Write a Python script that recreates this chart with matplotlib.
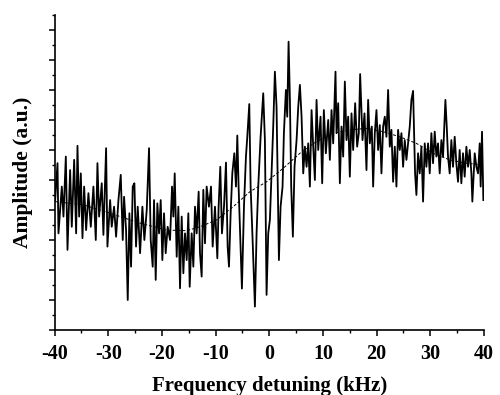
import matplotlib
matplotlib.use("Agg")
import matplotlib.pyplot as plt
from matplotlib.ticker import MultipleLocator, NullFormatter

freq = [
    -39.88, -39.44, -39.26, -38.64, -38.33, -37.89, -37.58, -37.09, -36.78, -36.34,
    -35.97, -35.72, -35.41, -35.10, -34.79, -34.48, -34.11, -33.68, -33.24, -32.75,
    -32.31, -32.00, -31.69, -31.20, -30.89, -30.39, -30.14, -29.64, -29.34, -28.90,
    -28.53, -28.09, -27.66, -27.29, -27.04, -26.67, -26.36, -26.05, -25.74, -25.43,
    -25.12, -24.81, -24.50, -24.06, -23.63, -23.26, -22.82, -22.39, -22.08, -21.71,
    -21.46, -21.15, -20.84, -20.53, -20.22, -19.91, -19.60, -19.29, -18.92, -18.48,
    -18.11, -17.86, -17.61, -17.24, -16.93, -16.62, -16.31, -16.00, -15.69, -15.38,
    -15.07, -14.82, -14.45, -14.14, -13.83, -13.52, -13.15, -12.90, -12.59, -12.28,
    -11.97, -11.66, -11.23, -10.85, -10.54, -10.11, -9.67, -9.43, -9.12, -8.81,
    -8.43, -8.06, -7.75, -7.50, -7.19, -6.88, -6.51, -6.20, -5.95, -5.71,
    -5.46, -5.09, -4.71, -4.34, -4.09, -3.72, -3.47, -3.10, -2.67, -2.36,
    -2.05, -1.61, -1.12, -0.81, -0.50, -0.19, 0.12, 0.43, 0.74, 1.05,
    1.36, 1.80, 2.11, 2.48, 2.73, 3.10, 3.35, 3.60, 3.85, 4.09,
    4.40, 4.71, 5.09, 5.40, 5.71, 6.02, 6.33, 6.64, 6.95, 7.26,
    7.57, 7.88, 8.19, 8.50, 8.81, 9.12, 9.55, 9.86, 10.17, 10.54,
    10.98, 11.29, 11.60, 11.91, 12.34, 12.53, 12.84, 13.15, 13.46, 13.77,
    14.08, 14.39, 14.70, 15.01, 15.32, 15.63, 16.00, 16.37, 16.68, 16.93,
    17.37, 17.74, 18.11, 18.42, 18.73, 19.10, 19.35, 19.66, 19.97, 20.28,
    20.59, 20.90, 21.21, 21.52, 21.83, 22.14, 22.45, 22.76, 23.07, 23.38,
    23.69, 24.00, 24.31, 24.62, 24.93, 25.24, 25.55, 25.86, 26.17, 26.48,
    26.79, 27.16, 27.41, 27.72, 28.03, 28.34, 28.65, 28.96, 29.27, 29.58,
    29.89, 30.20, 30.51, 30.82, 31.13, 31.44, 31.75, 32.06, 32.37, 32.81,
    33.06, 33.30, 33.61, 33.92, 34.23, 34.54, 34.85, 35.16, 35.47, 35.78,
    36.09, 36.40, 36.72, 37.03, 37.34, 37.65, 37.83, 38.27, 38.58, 38.89,
    39.20, 39.38, 39.63, 39.88,
]
amp = [
    4.33, 5.56, 3.22, 4.78, 3.78, 5.78, 2.67, 5.33, 3.44, 5.67,
    3.22, 6.14, 3.78, 5.22, 3.06, 4.78, 3.33, 4.56, 3.44, 4.78,
    3.00, 5.56, 3.78, 4.89, 3.17, 6.06, 2.78, 4.33, 3.44, 4.11,
    3.11, 4.33, 5.17, 3.00, 4.44, 3.33, 1.00, 3.89, 2.11, 4.78,
    4.89, 2.78, 4.11, 2.56, 4.11, 3.00, 4.00, 6.06, 3.00, 2.11,
    4.33, 1.67, 4.22, 3.22, 4.33, 2.33, 3.89, 2.56, 3.44, 3.00,
    4.78, 3.78, 5.22, 2.44, 4.11, 1.39, 3.78, 1.89, 3.22, 2.33,
    3.89, 1.44, 3.22, 2.11, 4.11, 3.22, 4.61, 2.56, 1.78, 4.67,
    2.89, 4.78, 4.11, 4.78, 2.78, 4.11, 2.39, 4.11, 5.44, 3.22,
    4.11, 5.58, 2.78, 2.11, 3.89, 5.22, 5.89, 4.78, 6.48, 4.78,
    3.44, 1.38, 4.11, 5.78, 6.44, 7.53, 4.78, 3.00, 0.78, 3.22,
    4.78, 6.44, 7.89, 6.33, 1.17, 3.22, 3.67, 5.22, 6.78, 8.61,
    7.44, 2.33, 4.11, 4.78, 6.56, 8.00, 7.11, 9.61, 7.67, 4.78,
    3.11, 5.44, 6.33, 7.44, 8.17, 7.11, 5.22, 6.11, 5.44, 6.22,
    4.78, 7.33, 6.11, 5.00, 7.67, 6.00, 7.11, 4.89, 7.33, 5.89,
    7.00, 5.67, 7.33, 6.22, 8.61, 6.56, 7.56, 4.89, 6.78, 5.78,
    8.28, 6.33, 7.11, 5.11, 7.22, 6.00, 7.56, 6.11, 6.56, 8.53,
    6.33, 7.22, 5.33, 7.67, 6.22, 6.78, 4.78, 6.56, 7.33, 6.00,
    6.83, 5.22, 6.78, 7.11, 6.44, 8.00, 6.11, 6.67, 4.94, 6.11,
    4.78, 6.67, 6.00, 6.56, 5.44, 6.33, 5.67, 6.22, 6.78, 7.67,
    7.97, 5.22, 4.50, 5.89, 5.22, 6.11, 4.28, 6.22, 5.44, 6.22,
    5.22, 6.56, 5.56, 6.61, 5.78, 6.22, 5.22, 6.33, 5.78, 7.67,
    6.78, 5.78, 5.22, 6.33, 5.44, 6.44, 5.56, 4.94, 6.00, 4.89,
    5.89, 5.11, 6.11, 5.44, 6.00, 5.22, 4.28, 5.89, 5.44, 5.22,
    6.22, 4.78, 6.61, 4.33,
]

# dashed fit curve
fit_freq = [-39.88, -34.60, -29.64, -24.06, -19.10, -15.38, -12.90, -9.80,
            -6.70, -3.60, -0.50, 2.60, 5.71, 8.81, 11.91, 15.01, 18.11,
            21.21, 24.31, 27.41, 30.51, 33.61, 36.72, 39.81]
fit_amp = [4.28, 4.17, 3.89, 3.56, 3.33, 3.31, 3.44, 3.67, 4.11, 4.61, 4.94,
           5.39, 5.89, 6.28, 6.56, 6.67, 6.72, 6.61, 6.44, 6.22, 5.89, 5.67,
           5.56, 5.50]

xticks = [-40, -30, -20, -10, 0, 10, 20, 30, 40]

plt.rcParams['font.family'] = ['Liberation Serif', 'DejaVu Serif']
plt.rcParams['axes.unicode_minus'] = False

fig = plt.figure(figsize=(5.0, 3.95), dpi=100)
ax = fig.add_axes([0.109, 0.1646, 0.859, 0.7975])

ax.plot(freq, amp, color='black', linewidth=1.3)
ax.plot(fit_freq, fit_amp, color='black', linewidth=0.7, linestyle=(0, (3, 2)))

ax.set_xlim(-40, 40)
ax.set_ylim(0, 10.5)

# only left and bottom axes, ticks outward
ax.spines['top'].set_visible(False)
ax.spines['right'].set_visible(False)
for s in ('left', 'bottom'):
    ax.spines[s].set_linewidth(1.2)

ax.set_xticks(xticks)
ax.xaxis.set_minor_locator(MultipleLocator(5))
ax.yaxis.set_major_locator(MultipleLocator(1))
ax.yaxis.set_minor_locator(MultipleLocator(0.5))
ax.yaxis.set_major_formatter(NullFormatter())

ax.tick_params(axis='both', which='major', direction='out', length=4, width=1.1)
ax.tick_params(axis='both', which='minor', direction='out', length=2.5, width=1.0)
ax.tick_params(axis='x', labelsize=14.5, pad=6)
for lab in ax.get_xticklabels():
    lab.set_fontweight('bold')

ax.set_xlabel('Frequency detuning (kHz)', fontsize=15, fontweight='bold', labelpad=9)
ax.set_ylabel('Amplitude (a.u.)', fontsize=15.5, fontweight='bold', labelpad=8)

fig.savefig('out.png', dpi=100)
